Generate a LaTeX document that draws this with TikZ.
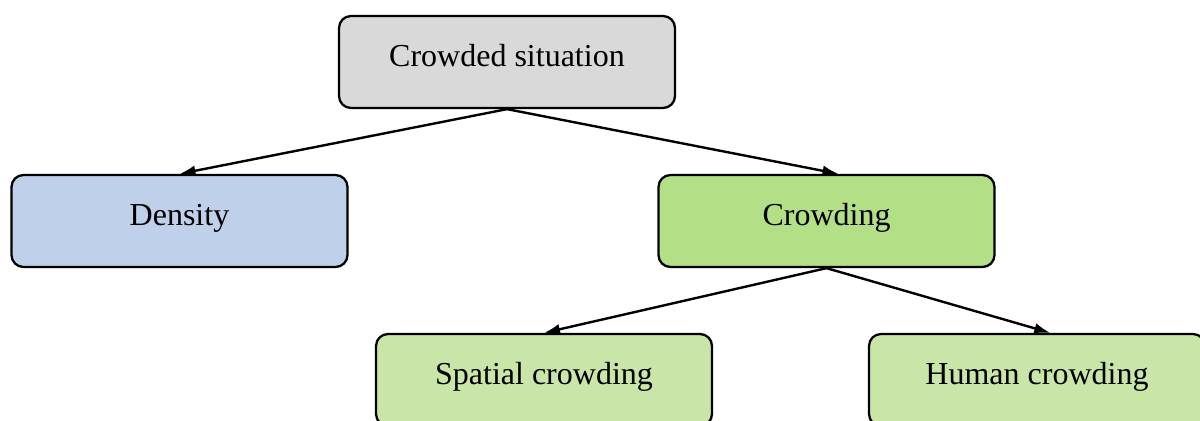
\documentclass[tikz,border=0pt]{standalone}
\usepackage{fontspec}
\setmainfont{Liberation Serif}
\usepackage{tikz}
\usetikzlibrary{arrows.meta, positioning}
\definecolor{boxgray}{RGB}{217, 217, 217}
\definecolor{boxblue}{RGB}{191, 208, 235}
\definecolor{boxgreen}{RGB}{179, 223, 135}
\definecolor{boxlightgreen}{RGB}{201, 230, 168}

\begin{document}
\begin{tikzpicture}[
    x=0.75pt, y=-0.75pt,
    every node/.style={font=\fontsize{24}{29}\selectfont},
    box/.style={rectangle, draw=black, line width=1.7pt, rounded corners=9pt, minimum width=252pt, minimum height=69pt, text height=16pt, text depth=10pt, align=center},
    arrow/.style={-{Latex[length=12pt, width=8pt]}, line width=1.8pt, black}
]
    \useasboundingbox (0,0) rectangle (1200,421);
    \clip (0,0) rectangle (1200,421);

    % Nodes
    \node (situation) [box, fill=boxgray] at (507,62) {Crowded situation};
    \node (density) [box, fill=boxblue] at (179.5,221) {Density};
    \node (crowding) [box, fill=boxgreen] at (826.5,221) {Crowding};
    \node (spatial) [box, fill=boxlightgreen] at (544,380) {Spatial crowding};
    \node (human) [box, fill=boxlightgreen] at (1037,380) {Human crowding};

    % Connections
    \draw [arrow] (situation.south) -- (density.north);
    \draw [arrow] (situation.south) -- ([xshift=9pt]crowding.north);
    \draw [arrow] (crowding.south) -- (spatial.north);
    \draw [arrow] (crowding.south) -- ([xshift=10pt]human.north);
\end{tikzpicture}
\end{document}
